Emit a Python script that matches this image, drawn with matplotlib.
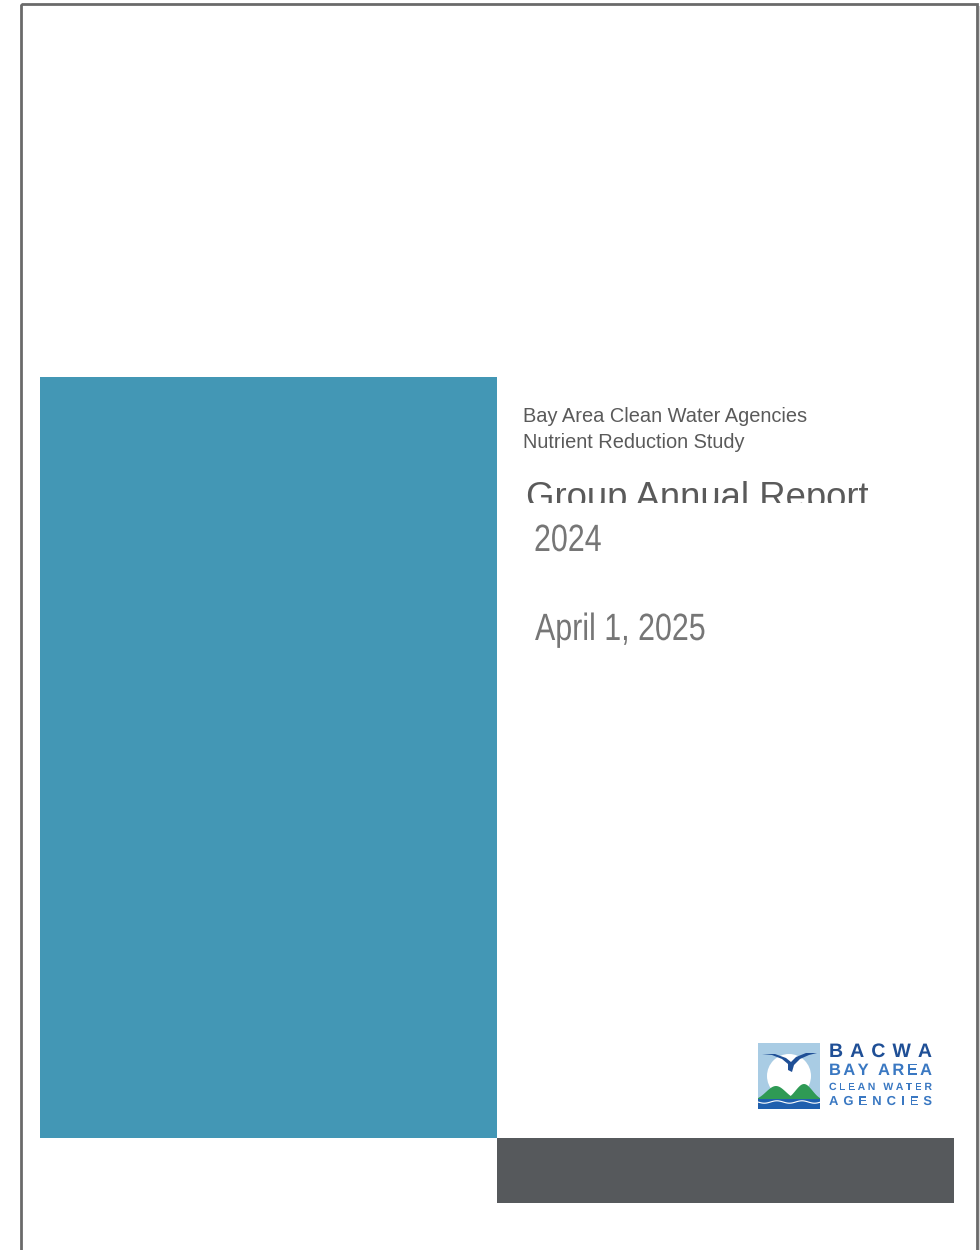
import matplotlib
matplotlib.use("Agg")
import matplotlib.pyplot as plt
from matplotlib.patches import Rectangle, Circle, Polygon, PathPatch
from matplotlib.textpath import TextPath, text_to_path
from matplotlib.font_manager import FontProperties
from matplotlib.transforms import Affine2D, Bbox, TransformedBbox
import numpy as np

# ---- content ----
header_lines = ["Bay Area Clean Water Agencies", "Nutrient Reduction Study"]
title_text = "Group Annual Report"
year_text = "2024"
date_text = "April 1, 2025"
logo_lines = ["BACWA", "BAY AREA", "CLEAN WATER", "AGENCIES"]

# ---- colours ----
BLUE = "#4397b5"
DARK = "#56595c"
TEXT_GREY = "#5a5a5a"
LIGHT_GREY = "#767676"
BORDER = "#6a6a6a"

W, H = 980, 1250
fig = plt.figure(figsize=(W / 100, H / 100), dpi=100)
ax = fig.add_axes([0, 0, 1, 1])
ax.set_xlim(0, W)
ax.set_ylim(H, 0)
ax.axis("off")

SANS = ["Liberation Sans", "DejaVu Sans"]

# page border and shadow
ax.add_patch(Rectangle((977, 6), 3, H, color="#d0d0d0", lw=0, zorder=1))
ax.add_patch(Rectangle((20.5, 3.5), 956, H + 20, fill=False, ec=BORDER, lw=2.0, zorder=5))

# blocks
ax.add_patch(Rectangle((40, 377), 457, 761, color=BLUE, lw=0, zorder=2))
ax.add_patch(Rectangle((497, 1138), 457, 65, color=DARK, lw=0, zorder=2))

# header text
for i, line in enumerate(header_lines):
    ax.text(523, 422 + i * 26, line, fontsize=14.4, color=TEXT_GREY,
            family=SANS, va="baseline", ha="left")

# title, clipped at its bottom as in the reference
t = ax.text(526, 508, title_text, fontsize=26.3, color=TEXT_GREY,
            family=SANS, va="baseline", ha="left")
t.set_clip_on(True)
t.set_clip_box(TransformedBbox(Bbox([[500, 440], [960, 503]]), ax.transData))


def narrow_text(x, y, s, size, sx, color):
    tp = TextPath((0, 0), s, size=size, prop=FontProperties(family="Liberation Sans"))
    tr = Affine2D().scale(sx, -1.0).translate(x, y) + ax.transData
    ax.add_patch(PathPatch(tp, transform=tr, color=color, lw=0, zorder=6))


narrow_text(534, 551, year_text, 38, 0.80, LIGHT_GREY)
narrow_text(535, 640, date_text, 38, 0.80, LIGHT_GREY)

# ---- logo ----
lx0, ly0, lx1, ly1 = 758, 1043, 820, 1109
ax.add_patch(Rectangle((lx0, ly0), lx1 - lx0, ly1 - ly0, color="#a9cce4", lw=0, zorder=3))
ax.add_patch(Circle((789, 1076), 22, color="white", lw=0, zorder=4))
# hills
hx = np.linspace(lx0, lx1, 60)
hill1 = 1101 - 15 * np.exp(-((hx - 776) / 14) ** 2)
hill2 = 1101 - 17 * np.exp(-((hx - 804) / 12) ** 2)
hills = np.minimum(hill1, hill2)
ax.add_patch(Polygon(np.column_stack([np.r_[hx, lx1, lx0], np.r_[hills, 1102, 1102]]),
                     color="#2f9a55", lw=0, zorder=5))
# water
ax.add_patch(Rectangle((lx0, 1099), lx1 - lx0, 10, color="#1f5fae", lw=0, zorder=6))
wx = np.linspace(lx0, lx1, 60)
ax.plot(wx, 1102 + 1.2 * np.sin((wx - lx0) / 4), color="white", lw=0.8, zorder=7)
# bird
bird = np.array([[762, 1054], [772, 1055], [782, 1059], [788, 1064], [788, 1070],
                 [792, 1072], [794, 1065], [800, 1059], [809, 1055], [817, 1053],
                 [806, 1053], [796, 1057], [791, 1062], [786, 1058], [775, 1054]])
ax.add_patch(Polygon(bird, color="#1f4f96", lw=0, zorder=8))


def tracked(text, x0, x1, y, size, color):
    prop = FontProperties(family="Liberation Sans", weight="bold")
    widths = []
    for ch in text:
        w, _, _ = text_to_path.get_text_width_height_descent(ch, prop.copy(), ismath=False)
        widths.append(w / prop.get_size_in_points() * size)
    widths = np.array(widths)
    track = ((x1 - x0) - widths.sum()) / (len(text) - 1)
    x = x0
    for ch, w in zip(text, widths):
        if ch != " ":
            tp = TextPath((0, 0), ch, size=size, prop=prop)
            tr = Affine2D().scale(1.0, -1.0).translate(x, y) + ax.transData
            ax.add_patch(PathPatch(tp, transform=tr, color=color, lw=0, zorder=9))
        x += w + track


tracked(logo_lines[0], 829, 932, 1057, 19.5, "#1f4f96")
tracked(logo_lines[1], 829, 932, 1075, 16.5, "#3a78c2")
tracked(logo_lines[2], 829, 932, 1090, 10.5, "#3a78c2")
tracked(logo_lines[3], 829, 932, 1105, 13.0, "#3a78c2")

fig.savefig("out.png", dpi=100, facecolor="white")
